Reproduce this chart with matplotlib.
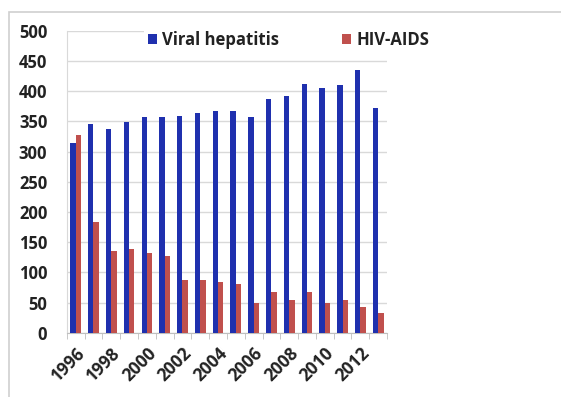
import numpy as np
import matplotlib.pyplot as plt
from matplotlib.patches import Rectangle

plt.rcParams['font.family'] = ['Open Sans', 'DejaVu Sans']

years = list(range(1996, 2014))
hepatitis = [314, 345, 337, 349, 358, 358, 359, 364, 368, 368,
             358, 387, 392, 412, 406, 410, 435, 373]
hiv_aids = [327, 183, 136, 138, 132, 127, 88, 87, 84, 80,
            49, 67, 54, 68, 50, 54, 43, 32]
year_labels = [str(y) for y in years[::2]]

blue = '#1f30ae'
red = '#c0504d'

fig = plt.figure(figsize=(5.61, 3.97), dpi=100)
ax = fig.add_axes([0.119, 0.162, 0.571, 0.76])

x = np.arange(len(years))
w = 0.3
ax.bar(x - w / 2, hepatitis, width=w, color=blue, label='Viral hepatitis', zorder=3)
ax.bar(x + w / 2, hiv_aids, width=w, color=red, label='HIV-AIDS', zorder=3)

ax.set_xlim(-0.5, len(years) - 0.5)
ax.set_ylim(0, 500)
ax.set_yticks(range(0, 501, 50))
ax.grid(axis='y', color='#d9d9d9', lw=1, zorder=0)

ax.set_xticks(x[::2])
ax.set_xticklabels(year_labels, rotation=45, ha='right', va='top',
                   rotation_mode='anchor', fontsize=12.5, fontweight='bold',
                   color='#222222')
ax.set_xticks(np.arange(-0.5, len(years)), minor=True)
ax.tick_params(axis='x', which='major', length=0, pad=8)
ax.tick_params(axis='x', which='minor', length=4, color='#bfbfbf')
ax.tick_params(axis='y', length=0, pad=14, labelsize=12, labelcolor='#222222')
for lbl in ax.get_yticklabels():
    lbl.set_fontweight('bold')

for side in ['top', 'right']:
    ax.spines[side].set_visible(False)
ax.spines['left'].set_color('#d9d9d9')
ax.spines['bottom'].set_color('#bfbfbf')

leg = ax.legend(loc='upper center', bbox_to_anchor=(0.692, 1.04), ncol=2,
                frameon=True, facecolor='white', edgecolor='none', framealpha=1,
                handlelength=0.55, handleheight=0.55, handletextpad=0.3,
                columnspacing=3.8, borderpad=0.2,
                prop={'weight': 'bold', 'size': 12})
for t in leg.get_texts():
    t.set_color('#222222')

# light border around the chart area
fig.add_artist(Rectangle((9 / 561, -0.1), 2, 1 - 12 / 397 + 0.1,
                         transform=fig.transFigure, fill=False,
                         edgecolor='#cfcfcf', lw=1.2))

fig.savefig('out.png', dpi=100)
